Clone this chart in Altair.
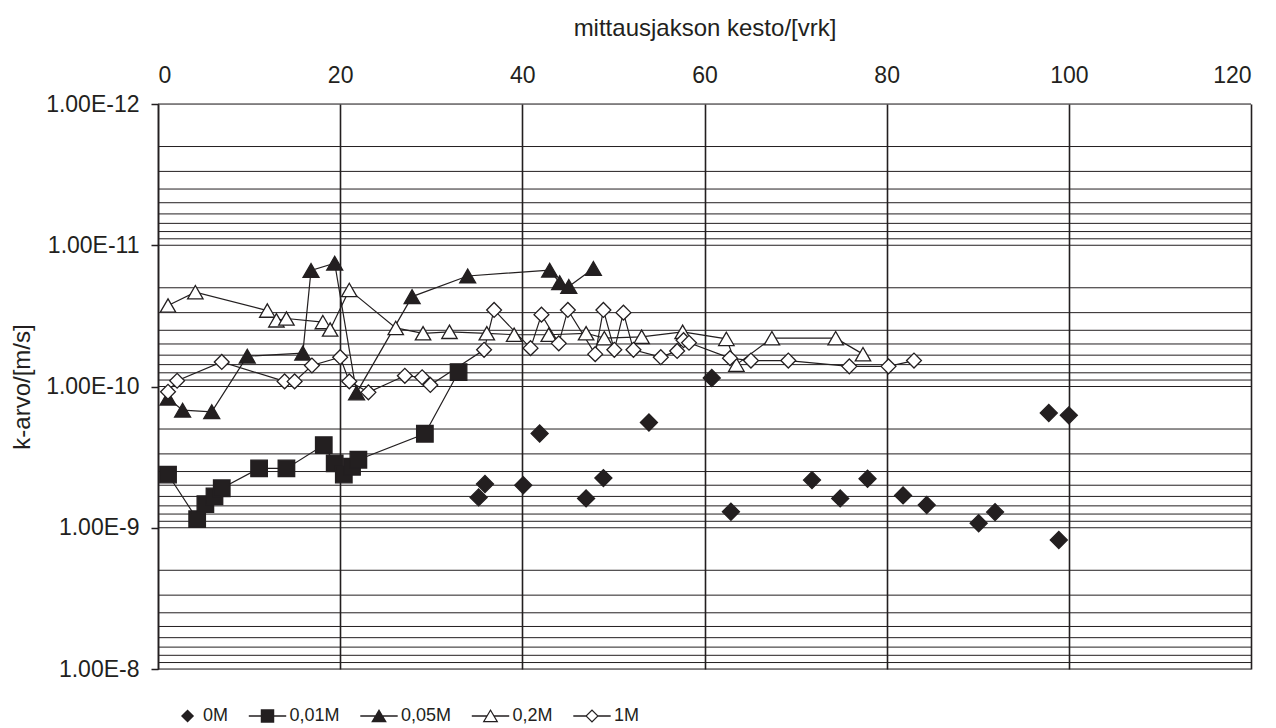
import altair as alt
import pandas as pd

SERIES = ["0M", "0,01M", "0,05M", "0,2M", "1M"]

# measurement period length [days] and k-value [m/s] for each solution
days_0m = [35.2, 35.9, 40.1, 41.9, 47.0, 48.9, 53.9, 60.8, 62.9, 71.8, 74.9, 77.9,
           81.8, 84.4, 90.1, 91.9, 97.8, 98.9, 100.0]
k_0m = [6.1e-10, 4.9e-10, 5.0e-10, 2.15e-10, 6.2e-10, 4.45e-10, 1.8e-10, 8.7e-11,
        7.7e-10, 4.6e-10, 6.2e-10, 4.5e-10, 5.9e-10, 6.9e-10, 9.3e-10, 7.75e-10,
        1.54e-10, 1.22e-9, 1.6e-10]

days_001 = [1.1, 4.3, 5.2, 6.2, 7.0, 11.1, 14.1, 18.2, 19.4, 20.4, 21.3, 22.0, 29.3, 33.0]
k_001 = [4.2e-10, 8.7e-10, 6.8e-10, 6.0e-10, 5.25e-10, 3.8e-10, 3.8e-10, 2.6e-10,
         3.5e-10, 4.2e-10, 3.7e-10, 3.3e-10, 2.16e-10, 7.9e-11]

days_005 = [1.1, 2.7, 5.9, 9.8, 15.9, 16.8, 19.4, 21.8, 27.9, 34.0, 43.0, 44.1, 45.1, 47.8]
k_005 = [1.21e-10, 1.47e-10, 1.51e-10, 6.1e-11, 5.8e-11, 1.51e-11, 1.34e-11, 1.11e-10,
         2.31e-11, 1.65e-11, 1.5e-11, 1.84e-11, 1.96e-11, 1.46e-11]

days_02 = [1.1, 4.1, 12.0, 13.0, 14.1, 18.1, 18.9, 21.0, 26.1, 29.1, 32.0, 36.1, 39.1,
           42.9, 47.0, 49.0, 53.1, 57.6, 62.4, 63.5, 67.4, 74.4, 77.4]
k_02 = [2.67e-11, 2.15e-11, 2.9e-11, 3.4e-11, 3.3e-11, 3.5e-11, 3.95e-11, 2.07e-11,
        3.85e-11, 4.2e-11, 4.1e-11, 4.2e-11, 4.3e-11, 4.3e-11, 4.2e-11, 4.55e-11,
        4.45e-11, 4.1e-11, 4.6e-11, 7.0e-11, 4.55e-11, 4.55e-11, 5.9e-11]

days_1 = [1.1, 2.1, 7.0, 13.9, 15.0, 16.9, 20.0, 21.0, 23.1, 27.1, 29.0, 29.9, 35.8,
          36.9, 40.9, 42.1, 44.0, 45.0, 48.0, 48.9, 50.1, 51.1, 52.2, 55.2, 57.0, 57.7,
          58.3, 62.8, 65.1, 69.2, 75.9, 80.2, 83.0]
k_1 = [1.09e-10, 9.1e-11, 6.7e-11, 9.2e-11, 9.2e-11, 7.1e-11, 6.2e-11, 9.2e-11, 1.1e-10,
       8.4e-11, 8.6e-11, 9.75e-11, 5.5e-11, 2.87e-11, 5.35e-11, 3.1e-11, 4.95e-11,
       2.87e-11, 5.9e-11, 2.87e-11, 5.5e-11, 3.0e-11, 5.5e-11, 6.2e-11, 5.6e-11,
       4.7e-11, 4.9e-11, 6.3e-11, 6.55e-11, 6.55e-11, 7.2e-11, 7.2e-11, 6.55e-11]

x_ticks = [0, 20, 40, 60, 80, 100, 120]
y_decades = [1e-12, 1e-11, 1e-10, 1e-9, 1e-8]

df = pd.concat([
    pd.DataFrame({"series": name, "day": d, "k": k})
    for name, d, k in [("0M", days_0m, k_0m), ("0,01M", days_001, k_001),
                       ("0,05M", days_005, k_005), ("0,2M", days_02, k_02),
                       ("1M", days_1, k_1)]
], ignore_index=True)

# horizontal grid at 1..9 x each decade
grid_df = pd.DataFrame({"k": [m * 10.0 ** e for e in range(-12, -8) for m in range(1, 10)] + [1e-8]})

FONT = "Liberation Sans"
INK = "#231f20"
W, H = 1093, 565

x_enc = alt.X("day:Q",
              scale=alt.Scale(domain=[0, 120], nice=False, zero=False),
              axis=alt.Axis(orient="top", values=x_ticks, format="d",
                            title="mittausjakson kesto/[vrk]",
                            grid=True, gridColor=INK, gridWidth=1.6,
                            ticks=False, tickSize=0, domain=False,
                            labelPadding=17, titlePadding=24,
                            labelFontSize=23, titleFontSize=24,
                            labelColor=INK, titleColor=INK,
                            titleFontWeight="normal", labelFont=FONT, titleFont=FONT))

y_scale = alt.Scale(type="log", domain=[1e-12, 1e-8], reverse=True, nice=False)
y_enc = alt.Y("k:Q", scale=y_scale,
              axis=alt.Axis(values=y_decades,
                            labelExpr="replace(format(datum.value, '.2e'), 'e', 'E')",
                            title="k-arvo/[m/s]", grid=False,
                            tickSize=7, tickColor=INK, tickWidth=1.5,
                            domainColor=INK, domainWidth=1.5,
                            labelPadding=12, titlePadding=11,
                            labelFontSize=23, titleFontSize=24,
                            labelColor=INK, titleColor=INK,
                            titleFontWeight="normal", labelFont=FONT, titleFont=FONT))

grid = alt.Chart(grid_df).mark_rule(color=INK, strokeWidth=1).encode(y=y_enc)

lines = alt.Chart(df).transform_filter("datum.series != '0M'").mark_line(
    color=INK, strokeWidth=1.2).encode(
    x=x_enc, y=y_enc, detail="series:N", order="day:Q")

points = alt.Chart(df).mark_point(filled=True, stroke=INK, strokeWidth=1.3, opacity=1).encode(
    x=x_enc, y=y_enc,
    shape=alt.Shape("series:N", scale=alt.Scale(
        domain=SERIES, range=["diamond", "square", "triangle-up", "triangle-up", "diamond"]),
        legend=None),
    fill=alt.Fill("series:N", scale=alt.Scale(
        domain=SERIES, range=[INK, INK, INK, "white", "white"]),
        legend=None),
    size=alt.Size("series:N", scale=alt.Scale(
        domain=SERIES, range=[290, 220, 250, 210, 190]), legend=None),
)

# legend glyphs drawn as filled outlines: marker plus connecting line stubs
STUB_L = "M-1,-0.04H{a}V0.04H-1Z"
STUB_R = "M{a},-0.04H1V0.04H{a}Z"
legend_paths = [
    "M0,0L0.35,-0.35L0.7,0L0.35,0.35Z",
    "M-1,-0.04H1V0.04H-1Z M-0.36,-0.36H0.36V0.36H-0.36Z",
    "M-1,-0.04H1V0.04H-1Z M0,-0.38L0.42,0.34L-0.42,0.34Z",
    STUB_L.format(a=-0.2) + " " + STUB_R.format(a=0.2)
    + " M0,-0.38L0.42,0.34L-0.42,0.34Z M0,-0.25L-0.305,0.27L0.305,0.27Z",
    STUB_L.format(a=-0.31) + " " + STUB_R.format(a=0.31)
    + " M-0.36,0L0,-0.36L0.36,0L0,0.36Z M-0.27,0L0,0.27L0.27,0L0,-0.27Z",
]

legend_df = pd.DataFrame({"key": SERIES})
legend_layer = alt.Chart(legend_df).transform_filter("false").mark_point(
    filled=True, fill=INK, strokeWidth=0, opacity=1).encode(
    shape=alt.Shape("key:N", scale=alt.Scale(domain=SERIES, range=legend_paths),
                    legend=alt.Legend(
                        title=None, orient="none", legendX=4, legendY=593,
                        direction="horizontal", symbolSize=1400,
                        symbolFillColor=INK, symbolStrokeWidth=0, symbolOpacity=1,
                        labelFontSize=18, labelFont=FONT, labelColor=INK,
                        labelOffset=3, columnPadding=19.5, padding=0)),
)

chart = alt.layer(grid, lines, points, legend_layer).resolve_scale(
    shape="independent"
).properties(
    width=W, height=H,
    autosize=alt.AutoSizeParams(type="none"),
    padding={"left": 158, "top": 104, "right": 1276 - 158 - W, "bottom": 728 - 104 - H},
).configure_view(stroke=INK, strokeWidth=1.6).configure(background="white")

chart.save("out.html", embed_options={"renderer": "svg", "actions": False})
